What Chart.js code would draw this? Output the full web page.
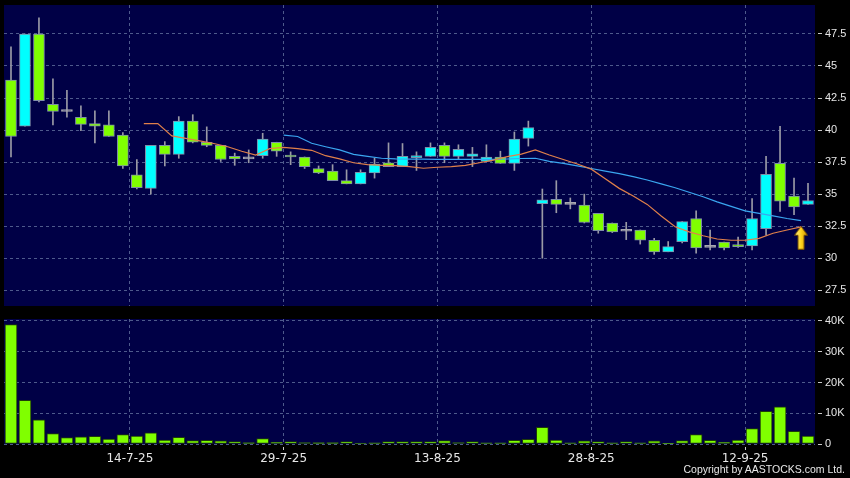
<!DOCTYPE html>
<html><head><meta charset="utf-8">
<script src="https://cdn.jsdelivr.net/npm/chart.js@4.4.1/dist/chart.umd.min.js"></script>
<style>
html,body{margin:0;padding:0;background:#000;}
#wrap{position:relative;width:850px;height:478px;background:#000;overflow:hidden;}
#c1{position:absolute;left:0;top:0;width:850px;height:312px;}
#c2{position:absolute;left:0;top:312px;width:850px;height:166px;}
#copy{position:absolute;right:5px;top:463px;font:10.5px "Liberation Sans",Arial,sans-serif;color:#e8e8e8;white-space:nowrap;}
</style></head><body>
<div id="wrap">
<canvas id="c1" width="850" height="312"></canvas>
<canvas id="c2" width="850" height="166"></canvas>
<div id="copy">Copyright by AASTOCKS.com Ltd.</div>
</div>
<script>
// ---- data ----
const dates = ["30-6-25","2-7-25","3-7-25","4-7-25","7-7-25","8-7-25","9-7-25","10-7-25","11-7-25","14-7-25",
"15-7-25","16-7-25","17-7-25","18-7-25","21-7-25","22-7-25","23-7-25","24-7-25","25-7-25","28-7-25",
"29-7-25","30-7-25","31-7-25","1-8-25","4-8-25","5-8-25","6-8-25","7-8-25","8-8-25","11-8-25",
"12-8-25","13-8-25","14-8-25","15-8-25","18-8-25","19-8-25","20-8-25","21-8-25","22-8-25","25-8-25",
"26-8-25","27-8-25","28-8-25","29-8-25","1-9-25","2-9-25","3-9-25","4-9-25","5-9-25","8-9-25",
"9-9-25","10-9-25","11-9-25","12-9-25","15-9-25","16-9-25","17-9-25","18-9-25"];
const opens  = [43.9,40.3,47.5,42.0,41.45,41.0,40.5,40.4,39.6,36.5, 35.45,38.8,38.1,40.7,39.05,38.8,37.95,37.75,38.0,39.05,
                38.05,37.9,37.0,36.8,36.05,35.8,36.65,37.45,37.15,37.85, 37.95,38.8,37.95,37.95,37.55,37.9,37.4,39.35,34.25,34.6,
                34.2,34.15,33.5,32.75,32.1,32.2,31.4,30.5,31.3,33.1, 30.85,31.25,31.05,30.95,32.3,37.4,34.85,34.2];
const highs  = [46.5,47.5,48.75,44.0,43.1,41.9,41.5,41.5,39.8,37.7, 38.8,39.1,41.05,41.2,40.25,38.8,38.2,38.45,39.75,39.05,
                38.3,37.9,37.2,37.3,36.9,36.9,37.8,39.0,38.95,38.3, 39.0,39.0,38.85,38.65,38.85,38.35,39.85,40.7,35.4,36.05,
                34.7,35.0,33.5,32.75,32.8,32.2,31.55,31.3,32.85,33.7, 32.2,31.25,31.65,34.65,37.95,40.3,36.25,35.85];
const lows   = [37.9,40.3,42.2,40.4,41.0,39.95,39.0,39.5,37.0,35.4, 35.0,37.2,37.8,39.0,38.7,37.55,37.25,37.45,37.8,37.95,
                37.3,37.0,36.6,36.05,35.8,35.8,36.25,37.15,37.15,36.85, 37.95,37.45,37.7,37.15,37.55,37.4,36.85,38.75,30.0,33.55,
                33.85,32.75,31.95,32.0,31.45,31.1,30.3,30.5,31.2,30.4, 30.65,30.65,30.85,30.65,31.8,33.65,33.4,34.2];
const closes = [39.5,47.5,42.3,41.45,41.45,40.45,40.3,39.5,37.2,35.5, 38.8,38.1,40.7,39.05,38.8,37.7,37.75,37.75,39.3,38.35,
                37.9,37.15,36.65,36.05,35.8,36.7,37.35,37.15,37.95,37.95, 38.65,37.95,38.5,38.15,37.9,37.4,39.3,40.2,34.55,34.2,
                34.2,32.8,32.15,32.05,32.1,31.4,30.5,30.9,32.85,30.8, 30.85,30.8,30.9,33.1,36.55,34.45,34.0,34.5];
const volumes = [38800,14200,7900,3400,2100,2300,2500,1600,3050,2600, 3600,1300,2200,1100,1200,1000,750,430,1750,600,
                 750,500,430,430,750,300,400,750,750,750, 750,1100,500,750,400,400,1200,1500,5450,1300,
                 400,1000,750,400,750,400,1000,200,1100,3050, 1200,600,1300,5000,10600,12100,4100,2600];
const ma10 = [null,null,null,null,null,null,null,null,null,
  40.5,40.5,39.55,39.35,39.15,38.95,38.7,38.35,38.05,38.55,38.65,38.55,38.42,38.0,37.75,37.45,37.3,37.25,37.22,37.15,
  37.02,37.1,37.15,37.25,37.45,37.65,37.93,38.12,38.45,38.05,37.7,37.35,36.95,36.2,35.45,34.85,34.2,33.3,32.45,32.05,
  31.75,31.5,31.4,31.4,31.55,31.95,32.2,32.45];
const ma20 = [null,null,null,null,null,null,null,null,null,null,null,null,null,null,null,null,null,null,null,
  39.6,39.5,38.97,38.7,38.45,38.1,37.95,37.8,37.75,37.73,37.73,37.72,37.72,37.72,37.72,37.72,37.74,37.78,37.8,37.55,
  37.4,37.2,37.0,36.8,36.6,36.37,36.1,35.8,35.5,35.15,34.8,34.4,34.05,33.7,33.5,33.3,33.1,32.93];
const dateTickIdx = [9,20,31,42,53];
const priceTicks = [27.5,30,32.5,35,37.5,40,42.5,45,47.5];
const volumeTicks = [0,10000,20000,30000,40000];
const signalIdx = [56];
const signalPrice = [31.6];

// ---- styles ----
const GREEN = '#80ff00', CYAN = '#00ffff', DOJI = '#a8a8b0';
const GRID = '#4e5a8c', TXT = '#e6e6e6', PANEL = '#000046';
const N = dates.length;

const panelBg = {
  id: 'panelBg',
  beforeDraw(chart) {
    const {ctx, chartArea: a} = chart;
    ctx.save();
    ctx.fillStyle = PANEL;
    ctx.fillRect(a.left, a.top, a.right - a.left, a.bottom - a.top);
    ctx.restore();
  }
};

function makeArrow() {
  const c = document.createElement('canvas');
  c.width = 14; c.height = 24;
  const g = c.getContext('2d');
  const grad = g.createLinearGradient(0, 0, 14, 0);
  grad.addColorStop(0, '#fff7a0'); grad.addColorStop(0.5, '#ffd41c'); grad.addColorStop(1, '#c88a00');
  g.beginPath();
  g.moveTo(7, 0.5); g.lineTo(13.5, 9.5); g.lineTo(10, 9.5); g.lineTo(10, 23.5);
  g.lineTo(4, 23.5); g.lineTo(4, 9.5); g.lineTo(0.5, 9.5); g.closePath();
  g.fillStyle = grad; g.fill();
  g.strokeStyle = '#7a5200'; g.lineWidth = 1; g.stroke();
  return c;
}

const candleColor = dates.map((_, i) => closes[i] > opens[i] ? CYAN : (closes[i] < opens[i] ? GREEN : DOJI));
const bodyBorder = dates.map((_, i) => closes[i] === opens[i] ? DOJI : '#7f8ea8');

const xDateScale = (showLabels) => ({
  type: 'linear', min: 0, max: N, offset: false,
  afterBuildTicks: s => { s.ticks = dateTickIdx.map(v => ({value: v})); },
  ticks: {
    display: showLabels, autoSkip: false, maxRotation: 0, padding: 2,
    color: TXT, font: {family: '"DejaVu Sans", sans-serif', size: 12},
    callback: v => dates[v]
  },
  grid: {offset: false, color: GRID, lineWidth: 1, drawTicks: showLabels, tickLength: 6,
         tickColor: '#c8c8c8', tickBorderDash: [0, 3, 3, 30]},
  border: {display: false, dash: [3, 3]},
  afterFit: s => { s.height = showLabels ? 34 : 0; s.paddingLeft = 0; s.paddingRight = 0; }
});

const yRight = (min, max, ticks, fmt) => ({
  position: 'right', min, max,
  afterBuildTicks: s => { s.ticks = ticks.map(v => ({value: v})); },
  ticks: {color: TXT, padding: 3, font: {family: '"Liberation Sans", Arial, sans-serif', size: 11}, callback: fmt},
  grid: {color: GRID, lineWidth: 1, drawTicks: true, tickLength: 7,
         tickColor: '#c8c8c8', tickBorderDash: [0, 3, 4, 30]},
  border: {display: false, dash: [3, 3]},
  afterFit: s => { s.width = 35; s.paddingTop = 0; s.paddingBottom = 0; }
});

// ---- price chart ----
new Chart(document.getElementById('c1'), {
  type: 'bar',
  data: {
    datasets: [
      {
        type: 'line', label: 'MA10', order: 0,
        data: ma10.map((v, i) => v === null ? null : {x: i + 1, y: v}).filter(p => p),
        borderColor: '#e0804a', borderWidth: 1.2, pointRadius: 0, tension: 0, fill: false
      },
      {
        type: 'line', label: 'MA20', order: 0,
        data: ma20.map((v, i) => v === null ? null : {x: i + 1, y: v}).filter(p => p),
        borderColor: '#3aa6f0', borderWidth: 1.2, pointRadius: 0, tension: 0, fill: false
      },
      {
        type: 'line', label: 'signal', order: 0, showLine: false,
        data: signalIdx.map((v, k) => ({x: v + 1, y: signalPrice[k]})),
        pointStyle: makeArrow(), pointRadius: 1
      },
      {
        label: 'body', order: 1, grouped: false,
        data: dates.map((_, i) => ({x: i + 0.5, y: [opens[i], closes[i]]})),
        backgroundColor: candleColor, borderColor: bodyBorder,
        borderWidth: 1, borderSkipped: false, barThickness: 11, minBarLength: 2
      },
      {
        label: 'wick', order: 2, grouped: false,
        data: dates.map((_, i) => ({x: i + 0.5, y: [lows[i], highs[i]]})),
        backgroundColor: '#9a9aa6', borderWidth: 0, barThickness: 1
      }
    ]
  },
  options: {
    responsive: false, animation: false,
    layout: {autoPadding: false, padding: {left: 4, top: 5, right: 0, bottom: 6}},
    plugins: {legend: {display: false}, tooltip: {enabled: false}},
    scales: {
      x: xDateScale(false),
      y: yRight(26.27, 49.76, priceTicks, v => Number.isInteger(v) ? String(v) : v.toFixed(1))
    }
  },
  plugins: [panelBg]
});

// ---- volume chart ----
new Chart(document.getElementById('c2'), {
  type: 'bar',
  data: {
    datasets: [{
      label: 'volume',
      data: volumes.map((v, i) => ({x: i + 0.5, y: v})),
      backgroundColor: GREEN, borderColor: '#1e3a0a', borderWidth: 1, borderSkipped: false, barThickness: 12
    }]
  },
  options: {
    responsive: false, animation: false,
    layout: {autoPadding: false, padding: {left: 4, top: 7, right: 0, bottom: 0}},
    plugins: {legend: {display: false}, tooltip: {enabled: false}},
    scales: {
      x: xDateScale(true),
      y: yRight(0, 40650, volumeTicks, v => v === 0 ? '0' : (v / 1000) + 'K')
    }
  },
  plugins: [panelBg]
});
</script>
</body></html>
